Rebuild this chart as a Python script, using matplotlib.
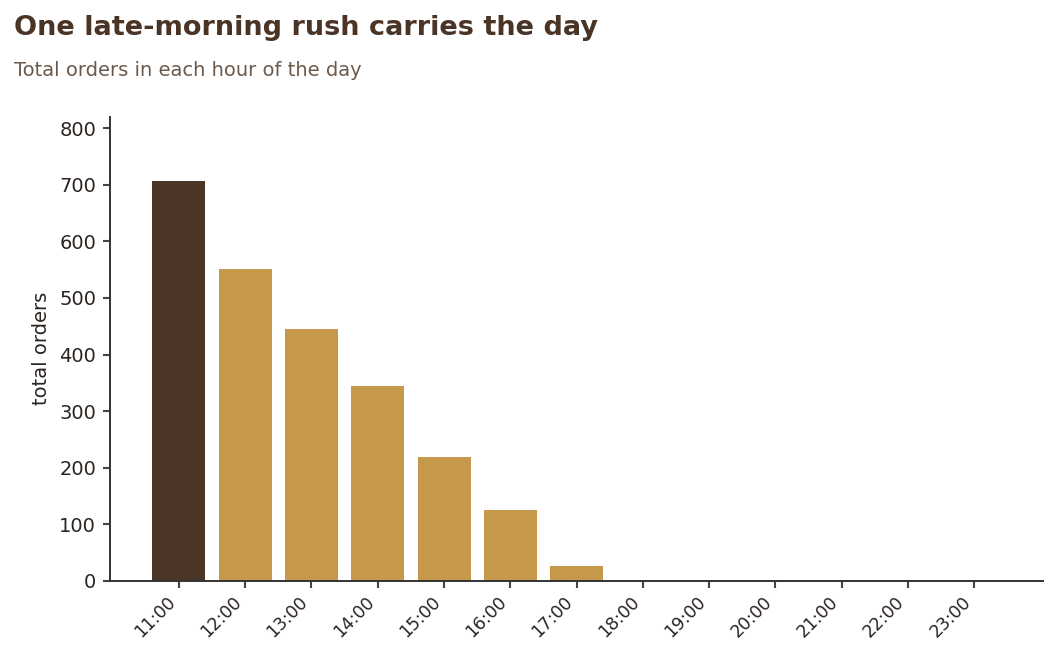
import matplotlib.pyplot as plt
import numpy as np

hours = ["11:00", "12:00", "13:00", "14:00", "15:00", "16:00", "17:00",
         "18:00", "19:00", "20:00", "21:00", "22:00", "23:00"]
orders = [707, 551, 445, 345, 219, 125, 27, 0, 0, 0, 0, 0, 0]
peak_color = "#4b3526"
bar_color = "#c6984b"

fig = plt.figure(figsize=(10.57, 6.57), dpi=100)
ax = fig.add_axes([0.104, 0.116, 0.883, 0.706])

x = np.arange(len(hours))
colors = [peak_color if v == max(orders) else bar_color for v in orders]
ax.bar(x, orders, width=0.8, color=colors)

ax.set_xlim(-1.04, len(hours) + 0.04)
ax.set_ylim(0, 820)
ax.set_yticks(range(0, 801, 100))
ax.set_xticks(x)
ax.tick_params(colors="#4a4440", length=5, width=1.5)
ax.tick_params(axis="y", pad=5)
ax.set_xticklabels(hours, rotation=45, ha="right", fontsize=12.5, color="#2b2420")
ax.tick_params(axis="y", labelsize=14, labelcolor="#2b2420")
ax.set_ylabel("total orders", fontsize=14, color="#2b2420", labelpad=6)

for s in ["top", "right"]:
    ax.spines[s].set_visible(False)
for s in ["left", "bottom"]:
    ax.spines[s].set_color("#333333")
    ax.spines[s].set_linewidth(1.4)

fig.text(0.013, 0.958, "One late-morning rush carries the day", fontsize=19.5,
         fontweight="bold", color="#4a3426", va="center")
fig.text(0.013, 0.893, "Total orders in each hour of the day", fontsize=14,
         color="#6b5a4c", va="center")

fig.savefig("out.png", dpi=100)
